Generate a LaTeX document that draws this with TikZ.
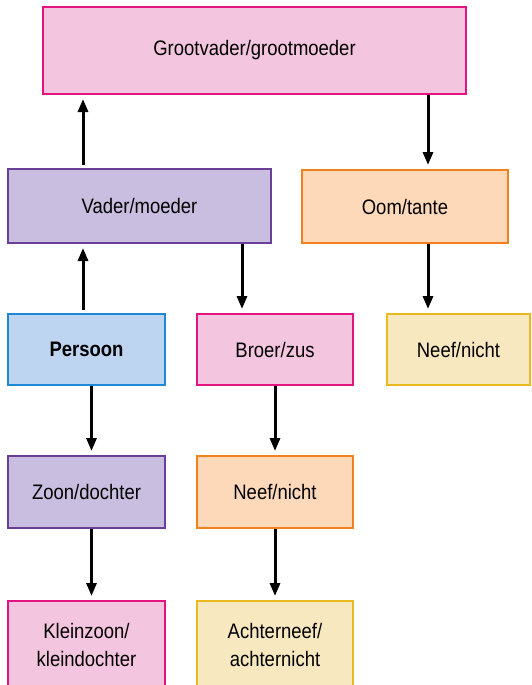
\documentclass[tikz,border=0pt]{standalone}
\usepackage{fontspec}
\setmainfont{Liberation Sans}[FakeStretch=0.88]
\usetikzlibrary{arrows.meta}
\definecolor{pinkF}{HTML}{F3C5DF}
\definecolor{pinkD}{HTML}{E3137F}
\definecolor{purpF}{HTML}{C9BEDF}
\definecolor{purpD}{HTML}{6A3F98}
\definecolor{blueF}{HTML}{BDD5F0}
\definecolor{blueD}{HTML}{1E88D4}
\definecolor{oranF}{HTML}{FDD9BA}
\definecolor{oranD}{HTML}{F2801C}
\definecolor{yellF}{HTML}{F8E8BF}
\definecolor{yellD}{HTML}{E8BA1E}
\tikzset{
  box/.style={rectangle, line width=2pt, inner sep=0pt, align=center,
    font=\fontsize{21}{28}\selectfont},
  pinkbox/.style={box, fill=pinkF, draw=pinkD},
  purpbox/.style={box, fill=purpF, draw=purpD},
  bluebox/.style={box, fill=blueF, draw=blueD},
  oranbox/.style={box, fill=oranF, draw=oranD},
  yellbox/.style={box, fill=yellF, draw=yellD},
  arr/.style={line width=3pt, -{Triangle[length=13pt,width=10pt]}, shorten >=4pt},
  uparr/.style={arr, shorten <=3pt}
}
\begin{document}
\begin{tikzpicture}[x=1pt,y=-1pt]
\useasboundingbox (0,0) rectangle (531,685);
\node[pinkbox, minimum width=423pt, minimum height=87pt] (gp) at (254.5,50.5) {Grootvader/grootmoeder};
\node[purpbox, minimum width=263pt, minimum height=74pt] (vm) at (139.5,206) {Vader/moeder};
\node[oranbox, minimum width=206pt, minimum height=73pt] (ot) at (405,206.5) {Oom/tante};
\node[bluebox, minimum width=157pt, minimum height=71pt] (ps) at (86.5,349.5) {\textbf{Persoon}};
\node[pinkbox, minimum width=156pt, minimum height=71pt] (bz) at (275,349.5) {Broer/zus};
\node[yellbox, minimum width=143pt, minimum height=71pt] (n1) at (458.5,349.5) {Neef/nicht};
\node[purpbox, minimum width=157pt, minimum height=72pt] (zd) at (86.5,492) {Zoon/dochter};
\node[oranbox, minimum width=156pt, minimum height=72pt] (n2) at (275,492) {Neef/nicht};
\node[pinkbox, minimum width=157pt, minimum height=87pt] (kz) at (86.5,644.5) {Kleinzoon/\\kleindochter};
\node[yellbox, minimum width=156pt, minimum height=87pt] (an) at (275,644.5) {Achterneef/\\achternicht};
\coordinate (xa) at (83,0);
\coordinate (xb) at (242,0);
\coordinate (xc) at (428,0);
\coordinate (xd) at (91.5,0);
\coordinate (xe) at (275,0);
\draw[uparr] (vm.north -| xa) -- (gp.south -| xa);
\draw[uparr] (ps.north -| xa) -- (vm.south -| xa);
\draw[arr] (gp.south -| xc) -- (ot.north -| xc);
\draw[arr] (ot.south -| xc) -- (n1.north -| xc);
\draw[arr] (vm.south -| xb) -- (bz.north -| xb);
\draw[arr] (ps.south -| xd) -- (zd.north -| xd);
\draw[arr] (zd.south -| xd) -- (kz.north -| xd);
\draw[arr] (bz.south -| xe) -- (n2.north -| xe);
\draw[arr] (n2.south -| xe) -- (an.north -| xe);
\end{tikzpicture}
\end{document}
